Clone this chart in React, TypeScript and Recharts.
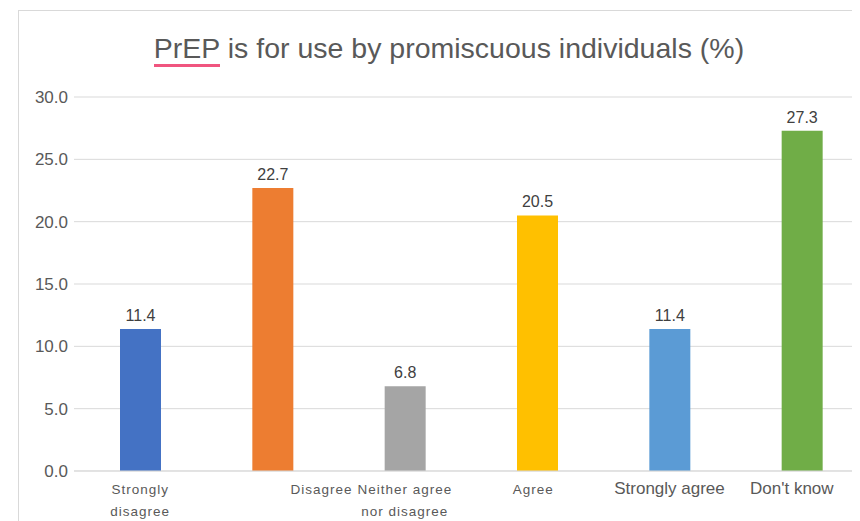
import { BarChart, Bar, XAxis, YAxis, CartesianGrid, LabelList, Cell } from "recharts";

const categories = ["Strongly disagree", "Disagree", "Neither agree nor disagree", "Agree", "Strongly agree", "Don't know"];
const percents = [11.4, 22.7, 6.8, 20.5, 11.4, 27.3];
const barColors = ["#4472C4", "#ED7D31", "#A5A5A5", "#FFC000", "#5B9BD5", "#70AD47"];
const tickLines = [["Strongly", "disagree"], ["Disagree"], ["Neither  agree", "nor disagree"], ["Agree"], ["Strongly agree"], ["Don't know"]];
const yTicks = [0, 5, 10, 15, 20, 25, 30];

const chartData = categories.map((name, i) => ({ name, value: percents[i] }));

// label nudges so the text sits where the original put it
const tickShift = [0, 49, 0, -4, 0, -10];

function CategoryTick(props: any) {
  const { x, y, index } = props;
  const lines = tickLines[index] || [];
  const spaced = index < 4;
  return (
    <g>
      {lines.map((l, k) => (
        <text
          key={k}
          x={x + tickShift[index]}
          y={y + 15 + k * 22}
          textAnchor="middle"
          fill="#595959"
          fontSize={spaced ? 13.5 : 17}
          letterSpacing={spaced ? 1 : 0}
        >
          {l}
        </text>
      ))}
    </g>
  );
}

export default function App() {
  return (
    <div style={{ position: "relative", width: 852, height: 513, overflow: "hidden", fontFamily: "'Liberation Sans', Arial, sans-serif" }}>
      <div
        style={{
          position: "absolute",
          left: 10,
          top: 2,
          width: 900,
          height: 560,
          border: "1px solid #d9d9d9",
        }}
      />
      <div
        style={{
          position: "absolute",
          left: 10,
          top: 24,
          width: 862,
          textAlign: "center",
          fontSize: 28.5,
          color: "#595959",
        }}
      >
        <span style={{ borderBottom: "3px solid #f0557f" }}>PrEP</span> is for use by promiscuous individuals (%)
      </div>
      <div style={{ position: "absolute", left: 0, top: 0 }}>
        <BarChart width={870} height={513} data={chartData} margin={{ top: 89, right: 10, bottom: 0, left: 0 }} barSize={41}>
          <CartesianGrid vertical={false} stroke="#d9d9d9" />
          <XAxis
            dataKey="name"
            tickLine={false}
            axisLine={{ stroke: "#d9d9d9" }}
            height={50}
            interval={0}
            tick={<CategoryTick />}
          />
          <YAxis
            domain={[0, 30]}
            ticks={yTicks}
            width={66}
            tickLine={false}
            axisLine={false}
            tickMargin={0}
            tickFormatter={(v: number) => v.toFixed(1)}
            tick={{ fill: "#595959", fontSize: 17 }}
          />
          <Bar dataKey="value" isAnimationActive={false}>
            {chartData.map((d, i) => (
              <Cell key={d.name} fill={barColors[i]} />
            ))}
            <LabelList
              dataKey="value"
              position="top"
              offset={8}
              formatter={(v: any) => Number(v).toFixed(1)}
              style={{ fill: "#404040", fontSize: 16 }}
            />
          </Bar>
        </BarChart>
      </div>
    </div>
  );
}
